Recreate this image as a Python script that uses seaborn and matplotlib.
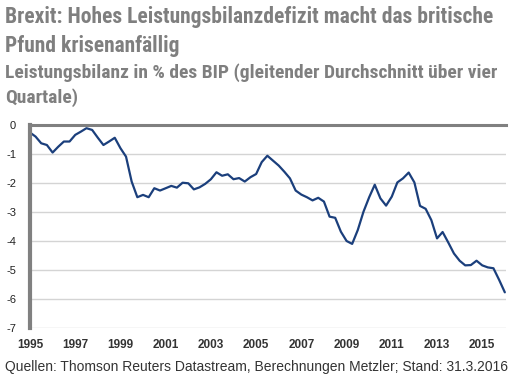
import matplotlib
matplotlib.use("Agg")
from matplotlib import pyplot as plt
import pandas as pd
import seaborn as sns

# Leistungsbilanz in % des BIP, quartalsweise ab 1995
values = [
    -0.26, -0.40, -0.63, -0.69, -0.95, -0.75, -0.57, -0.57, -0.34, -0.23,
    -0.11, -0.17, -0.44, -0.69, -0.57, -0.44, -0.80, -1.09, -1.95, -2.49,
    -2.41, -2.49, -2.18, -2.26, -2.18, -2.10, -2.16, -1.99, -2.01, -2.22,
    -2.15, -2.03, -1.87, -1.63, -1.75, -1.70, -1.87, -1.83, -1.95, -1.80,
    -1.69, -1.28, -1.06, -1.23, -1.40, -1.61, -1.84, -2.26, -2.40, -2.49,
    -2.60, -2.51, -2.64, -3.16, -3.20, -3.68, -4.00, -4.10, -3.62, -2.99,
    -2.49, -2.06, -2.53, -2.78, -2.47, -1.98, -1.84, -1.64, -1.98, -2.79,
    -2.89, -3.28, -3.91, -3.69, -4.05, -4.43, -4.68, -4.84, -4.83, -4.68,
    -4.84, -4.91, -4.94, -5.34, -5.77,
]
dates = pd.date_range("1995-01-01", periods=len(values), freq="QS")
tick_years = list(range(1995, 2016, 2))
y_ticks = [0, -1, -2, -3, -4, -5, -6, -7]

title_lines = ["Brexit: Hohes Leistungsbilanzdefizit macht das britische",
               "Pfund krisenanfällig"]
subtitle_lines = ["Leistungsbilanz in % des BIP (gleitender Durchschnitt über vier",
                  "Quartale)"]
source = "Quellen: Thomson Reuters Datastream, Berechnungen Metzler; Stand: 31.3.2016"

df = pd.DataFrame({"Datum": dates, "Wert": values})

sns.set_style("white")
plt.rcParams["font.family"] = ["Liberation Sans", "DejaVu Sans"]

fig = plt.figure(figsize=(5.15, 3.76), dpi=100)
ax = fig.add_axes([30 / 515, 1 - 328 / 376, 476 / 515, 203 / 376])

sns.lineplot(data=df, x="Datum", y="Wert", ax=ax, color="#1b3f7c", linewidth=1.6)

ax.set_ylim(-7, 0)
ax.set_yticks(y_ticks)
ax.set_yticklabels([str(v) for v in y_ticks], fontsize=8, color="#222222")
ax.set_xlim(pd.Timestamp("1995-01-01"), pd.Timestamp("2016-01-20"))
ax.set_xticks([pd.Timestamp(f"{y}-01-01") for y in tick_years])
ax.set_xticklabels([str(y) for y in tick_years], fontsize=8.5, fontweight="bold", color="#333333")
ax.tick_params(axis="both", length=0)
ax.tick_params(axis="y", pad=10)
ax.tick_params(axis="x", pad=8)
ax.set_xlabel("")
ax.set_ylabel("")

ax.yaxis.grid(True, color="#d4d4d4", linewidth=1)
ax.set_axisbelow(True)
for s in ["right", "bottom"]:
    ax.spines[s].set_visible(False)
ax.spines["top"].set_color("#808080")
ax.spines["top"].set_linewidth(2.2)
ax.spines["left"].set_color("#808080")
ax.spines["left"].set_linewidth(3)

narrow = ["Roboto Condensed", "DejaVu Sans"]
for txt, base, size in [(title_lines[0], 22.7, 15.5), (title_lines[1], 51.7, 15.5),
                        (subtitle_lines[0], 78.3, 14), (subtitle_lines[1], 103.3, 14)]:
    fig.text(5 / 515, 1 - base / 376, txt, family=narrow, fontweight="bold", fontsize=size,
             color="#7f7f7f", va="baseline", ha="left")
fig.text(5 / 515, 1 - 371 / 376, source, fontsize=10, color="#333333", va="baseline", ha="left")

fig.savefig("out.png", dpi=100)
